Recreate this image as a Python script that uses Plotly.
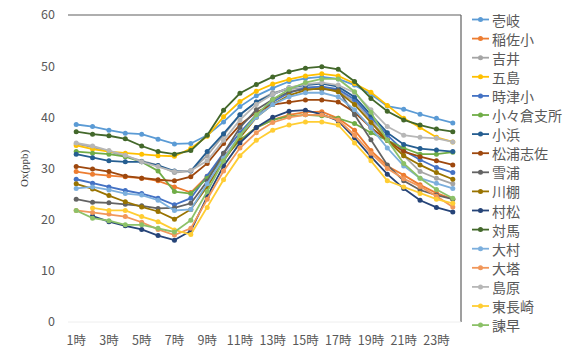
import plotly.graph_objects as go

hours = [f"{h}時" for h in range(1, 25)]
tick_labels = [f"{h}時" for h in range(1, 24, 2)]

stations = ["壱岐", "稲佐小", "吉井", "五島", "時津小", "小々倉支所", "小浜", "松浦志佐", "雪浦",
            "川棚", "村松", "対馬", "大村", "大塔", "島原", "東長崎", "諫早"]

iki = [38.6, 38.2, 37.5, 36.9, 36.7, 35.7, 34.8, 34.9, 36.5, 39.1, 42.1, 44.2, 45.7, 47.0, 47.6, 47.9, 47.5, 46.3, 44.5, 42.2, 41.6, 40.6, 39.8, 38.9]
inasa = [29.4, 28.9, 28.6, 28.4, 28.1, 27.6, 26.4, 25.3, 28.5, 32.5, 35.5, 38.0, 39.5, 40.5, 41.0, 41.1, 39.8, 37.5, 33.5, 30.5, 28.7, 26.8, 25.2, 24.0]
yoshii = [34.8, 34.2, 33.3, 32.4, 31.4, 30.6, 29.2, 29.5, 32.5, 36.5, 40.5, 43.0, 44.8, 45.5, 45.8, 46.0, 45.2, 43.0, 39.5, 35.5, 32.5, 29.4, 28.1, 27.0]
goto = [34.5, 33.8, 33.3, 33.0, 32.8, 32.5, 32.4, 33.9, 36.3, 40.1, 43.1, 45.1, 46.5, 47.4, 48.1, 48.5, 48.1, 46.6, 44.9, 42.3, 39.8, 38.0, 36.1, 35.2]
togitsu = [27.9, 27.1, 26.4, 25.7, 25.1, 24.2, 22.9, 24.2, 28.5, 33.0, 37.0, 40.5, 43.0, 44.8, 45.8, 46.0, 45.5, 43.5, 40.0, 36.5, 33.5, 31.7, 30.2, 29.2]
kokura = [33.3, 33.0, 32.8, 32.3, 31.3, 29.5, 25.5, 25.1, 28.1, 32.0, 35.5, 38.0, 39.5, 40.2, 40.5, 40.3, 39.8, 38.8, 37.0, 35.5, 34.0, 32.8, 32.8, 33.2]
obama = [32.8, 32.1, 31.5, 31.3, 31.3, 30.6, 29.5, 29.5, 33.3, 36.8, 40.5, 43.0, 44.5, 45.8, 46.3, 46.6, 46.0, 44.0, 40.5, 37.0, 34.7, 33.9, 33.6, 33.3]
matsuura = [30.4, 29.9, 29.4, 28.5, 28.1, 27.8, 27.6, 28.4, 31.0, 34.9, 38.5, 41.0, 42.5, 43.0, 43.4, 43.4, 43.0, 41.0, 38.0, 35.5, 33.3, 32.3, 31.5, 30.7]
yukiura = [24.0, 23.4, 23.3, 23.0, 22.7, 22.2, 22.3, 23.2, 27.5, 33.0, 38.0, 41.5, 43.5, 45.0, 45.5, 45.5, 45.3, 40.5, 35.6, 30.7, 27.6, 25.8, 24.8, 24.0]
kawatana = [27.0, 26.0, 24.7, 23.5, 22.5, 21.6, 20.1, 22.0, 26.5, 31.5, 36.0, 40.0, 42.5, 44.3, 45.3, 45.7, 45.0, 42.5, 39.0, 35.5, 32.5, 30.7, 29.2, 27.9]
muramatsu = [None, 20.7, 19.6, 18.8, 18.1, 16.9, 16.0, 17.8, 24.5, 30.5, 35.0, 38.0, 40.0, 41.2, 41.4, 40.6, 39.3, 36.0, 32.3, 28.9, 26.1, 23.8, 22.4, 21.5]
tsushima = [37.2, 36.7, 36.4, 35.8, 34.4, 33.3, 32.8, 33.5, 36.5, 41.4, 44.7, 46.4, 47.9, 48.9, 49.6, 49.9, 49.4, 47.0, 43.7, 41.2, 39.5, 38.5, 37.7, 37.2]
omura = [26.1, 26.4, 25.8, 25.1, 24.8, 23.8, 21.8, 22.0, 27.0, 32.0, 36.5, 40.0, 42.5, 44.0, 44.8, 44.8, 44.0, 41.5, 38.0, 34.0, 30.5, 28.1, 27.1, 26.1]
oto = [21.8, 21.4, 21.1, 20.6, 19.5, 18.1, 17.0, 18.3, 24.0, 29.5, 34.0, 37.0, 39.0, 40.0, 40.5, 40.5, 39.5, 36.5, 33.0, 30.0, 28.0, 26.5, 24.6, 22.5]
shimabara = [35.0, 34.4, 33.5, 32.6, 31.3, 30.4, 29.4, 29.6, 31.5, 35.5, 39.5, 42.5, 44.5, 45.8, 46.5, 46.8, 46.3, 44.8, 41.5, 38.2, 36.5, 36.1, 35.9, 35.2]
higashinagasaki = [None, 22.3, 21.8, 21.8, 20.6, 19.6, 18.0, 17.1, 22.4, 27.8, 32.5, 35.5, 37.5, 38.5, 39.1, 39.1, 38.5, 35.0, 31.5, 27.6, 26.4, 25.1, 24.0, 23.2]
isahaya = [21.8, 20.3, 19.8, 19.0, 19.0, 18.3, 17.6, 19.9, 25.5, 31.5, 36.5, 40.5, 43.5, 45.5, 46.8, 47.5, 47.5, 45.0, 41.0, 35.5, 31.0, 28.1, 25.9, 24.2]

series = [iki, inasa, yoshii, goto, togitsu, kokura, obama, matsuura, yukiura,
          kawatana, muramatsu, tsushima, omura, oto, shimabara, higashinagasaki, isahaya]
colors = ["#5B9BD5", "#ED7D31", "#A5A5A5", "#FFC000", "#4472C4", "#70AD47", "#255E91", "#9E480E",
          "#636363", "#997300", "#264478", "#43682B", "#7CAFDD", "#F1975A", "#B7B7B7", "#FFCD33", "#8CC168"]

W, H = 563, 349
ML, MR, MT, MB = 68, 102, 15, 27
PW, PH = W - ML - MR, H - MT - MB


def px_x(px):
    return (px - ML) / PW


def px_y(py):
    return (H - MB - py) / PH


fig = go.Figure()
for name, vals, col in zip(stations, series, colors):
    fig.add_trace(go.Scatter(x=hours, y=vals, name=name, mode="lines+markers",
                             line=dict(color=col, width=1.8),
                             marker=dict(color=col, size=5), showlegend=False))

# manual legend (Excel style compact spacing)
shapes = [
    dict(type="line", xref="x domain", yref="y domain", x0=0, x1=1, y0=1, y1=1,
         line=dict(color="#5f5f5f", width=1.2)),
    dict(type="line", xref="x domain", yref="y domain", x0=1, x1=1, y0=0, y1=1,
         line=dict(color="#5f5f5f", width=1.2)),
    dict(type="line", xref="x domain", yref="y domain", x0=0, x1=1, y0=0, y1=0,
         line=dict(color="#eeeeee", width=1)),
]
annotations = [dict(text="Ox(ppb)", textangle=-90, xref="paper", yref="paper",
                    x=px_x(16), y=0.5, showarrow=False,
                    font=dict(family="Liberation Serif", size=11, color="#404040"))]

leg_top, leg_step = 19.5, 19.1
for i, (name, col) in enumerate(zip(stations, colors)):
    cy = leg_top + leg_step * i
    shapes.append(dict(type="line", xref="paper", yref="paper",
                       x0=px_x(472), x1=px_x(489), y0=px_y(cy), y1=px_y(cy),
                       line=dict(color=col, width=1.8)))
    shapes.append(dict(type="circle", xref="paper", yref="paper",
                       xsizemode="pixel", ysizemode="pixel",
                       xanchor=px_x(480.5), yanchor=px_y(cy),
                       x0=-2.5, x1=2.5, y0=-2.5, y1=2.5,
                       fillcolor=col, line=dict(color=col, width=0)))
    annotations.append(dict(text=name, xref="paper", yref="paper",
                            x=px_x(490), y=px_y(cy), xanchor="left", yanchor="middle",
                            showarrow=False,
                            font=dict(size=14, color="#595959", family="Noto Sans CJK JP")))

fig.update_layout(
    width=W, height=H,
    margin=dict(l=ML, r=MR, t=MT, b=MB, autoexpand=False),
    paper_bgcolor="white", plot_bgcolor="white",
    font=dict(family="Noto Sans CJK JP", color="#595959", size=12),
    showlegend=False,
    xaxis=dict(type="category", categoryorder="array", categoryarray=hours,
               range=[-0.5, 23.5], tickmode="array", tickvals=tick_labels, ticktext=tick_labels,
               showgrid=False, zeroline=False, showline=False, ticks="", automargin=False,
               tickfont=dict(size=12.5, color="#595959"), ticklabelstandoff=9),
    yaxis=dict(range=[0, 60], dtick=10, showgrid=False, zeroline=False, showline=False, ticks="",
               automargin=False,
               tickfont=dict(size=12.5, color="#595959"), ticklabelstandoff=12),
    annotations=annotations,
    shapes=shapes,
)

fig.write_html("out.html")
